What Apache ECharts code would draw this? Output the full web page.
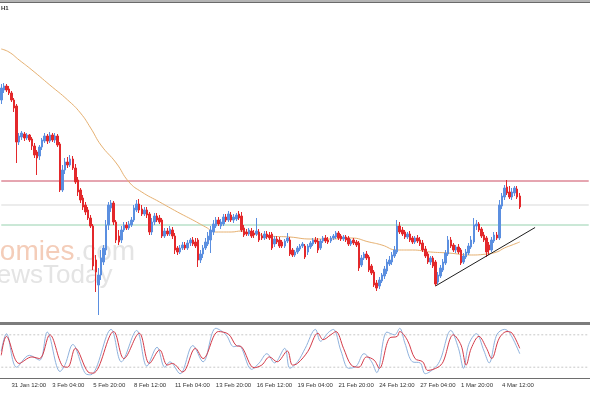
<!DOCTYPE html>
<html><head><meta charset="utf-8">
<script src="https://cdn.jsdelivr.net/npm/echarts@6/dist/echarts.min.js"></script>
<style>html,body{margin:0;padding:0;background:#fff}#c{width:590px;height:393px}</style>
</head><body><div id="c"></div>
<script>
// ---- data (price units are arbitrary) ----
const openP=[300,310,314,311,307,300,294,258,263,266,
262,265,261,254,248,244,253,259,264,259,
265,260,264,256,210,230,238,235,241,232,
220,210,202,195,190,182,174,140,115,125,
138,150,175,192,197,178,164,160,170,175,
172,175,180,190,196,191,186,190,186,168,
178,184,182,180,164,169,166,170,164,152,
148,152,155,152,157,160,158,160,140,146,
152,156,160,168,174,180,174,176,183,180,
185,180,181,186,184,172,168,166,169,167,
166,168,164,162,166,165,166,156,161,160,
158,154,159,160,150,145,148,151,154,154,
148,153,156,160,159,152,159,162,160,159,
162,163,167,164,161,163,162,156,160,158,
157,135,142,146,143,134,128,117,114,119,
124,129,136,138,144,148,174,170,168,163,
166,162,158,162,160,157,151,146,138,142,
138,118,124,130,137,146,160,155,150,153,
150,138,143,147,153,158,174,176,171,165,
162,155,150,159,165,162,194,203,213,208,
203,207,211,204];
const closeP=[312,314,310,307,300,292,258,264,267,262,
265,260,254,245,242,253,260,264,259,265,
260,264,255,210,230,238,235,241,232,218,
208,200,193,188,182,174,134,128,125,142,
152,175,195,197,178,160,158,170,175,172,
176,180,192,196,190,186,190,185,168,178,
184,180,178,164,169,166,171,164,150,148,
152,155,152,157,160,156,154,140,146,152,
158,164,170,176,180,176,178,183,180,186,
180,183,185,182,170,165,166,170,164,165,
169,160,162,166,163,162,152,161,158,154,
154,159,162,146,145,148,152,154,156,143,
154,157,160,158,150,159,162,159,158,162,
164,167,162,161,163,160,156,159,157,155,
132,142,146,142,130,127,115,112,120,125,
131,138,140,145,150,174,168,166,163,166,
160,158,162,159,156,150,144,138,142,134,
116,125,132,138,147,160,154,150,153,148,
137,144,148,154,160,175,176,170,164,160,
148,150,160,165,162,195,204,212,207,203,
208,212,203,193];
const lowP=[296,307,308,305,298,288,237,255,260,259,
260,258,250,242,225,240,250,257,256,257,
258,257,253,208,208,226,232,233,230,216,
204,197,190,185,180,172,130,108,85,120,
135,145,170,188,175,157,155,157,168,170,
170,173,178,188,187,184,184,182,165,165,
175,178,176,162,162,164,164,161,146,145,
146,150,150,150,154,154,152,133,137,142,
150,154,147,165,172,174,171,174,178,178,
178,177,179,180,168,163,164,164,162,162,
164,158,160,160,161,160,150,153,156,152,
152,152,157,144,143,143,146,149,152,141,
145,151,154,156,147,150,157,157,156,157,
160,161,160,159,159,158,154,154,155,153,
129,133,140,140,128,125,113,109,111,117,
121,126,134,135,142,146,166,164,161,161,
158,156,156,157,154,148,142,136,135,132,
114,116,122,128,135,144,152,148,147,146,
135,136,141,145,151,156,170,168,162,158,
143,145,148,157,160,160,191,200,205,201,
200,204,201,191];
const highP=[316,317,316,314,309,302,296,267,269,268,
267,266,263,257,250,255,262,267,266,268,
267,267,266,258,235,242,243,245,244,236,
223,212,205,198,193,185,176,145,132,150,
155,180,198,200,199,180,170,174,178,178,
179,183,195,200,201,195,193,193,188,182,
187,187,185,182,172,172,174,173,167,154,
155,158,158,160,162,163,162,162,150,155,
162,168,174,180,183,183,181,186,186,189,
188,186,187,189,188,175,171,172,172,170,
182,171,167,169,169,168,168,164,164,163,
160,161,167,163,152,150,154,156,158,156,
156,159,162,163,162,161,164,165,163,164,
166,169,169,166,165,165,164,161,162,160,
159,145,148,149,145,136,130,120,123,127,
134,141,144,148,154,180,178,173,170,168,
169,164,164,165,163,160,154,148,144,144,
140,128,135,141,150,164,163,157,155,156,
152,147,151,157,164,182,180,178,173,168,
164,158,163,168,168,200,207,215,220,214,
212,214,214,207];
// moving average, read at [barIndex, value]
const maPoints=[[0,351],[3,348],[7,340],[12,330],[19,315],[26,300],[31,287],[35,272],[39,255],[45,237],
[50,218],[55,208],[62,198],[69,188],[75,180],[80,173],[84,168],[90,168],[94,169],[97,167],
[105,164],[113,163],[121,161],[129,161],[137,162],[144,158],[149,155],[155,150],[161,150],[168,148],
[175,147],[184,145],[190,146],[194,148],[197,152],[200,155],[203,158]];
// stochastic oscillator, read at [barIndex, value]
const stochK=[[0,50],[2,82],[6,20],[11,42],[15,33],[18,85],[23,12],[25,25],[28,62],[33,8],[35,6],[43,90],[47,30],[53,88],[57,22],[61,57],[64,20],[66,30],[70,8],[75,60],[79,30],[84,92],[88,80],[91,58],[93,60],[98,16],[101,28],[104,45],[107,28],[111,55],[113,18],[116,30],[119,55],[123,90],[125,68],[128,84],[130,90],[133,50],[136,18],[139,22],[142,45],[145,30],[147,10],[151,85],[154,80],[156,92],[158,65],[161,30],[164,28],[166,8],[170,20],[172,35],[176,88],[179,55],[181,18],[183,62],[186,82],[189,50],[191,28],[194,80],[197,90],[199,84],[203,45]];
const stochD=[[0,42],[2,77],[7,27],[12,39],[15,36],[19,80],[24,22],[26,20],[29,55],[34,11],[36,9],[44,86],[48,36],[54,83],[58,27],[62,52],[65,24],[67,27],[71,11],[76,55],[79,36],[85,86],[89,81],[92,60],[94,58],[99,19],[102,24],[105,39],[108,30],[112,50],[114,24],[116,27],[120,49],[124,83],[126,71],[129,80],[131,86],[134,55],[137,24],[140,20],[143,39],[146,33],[148,18],[152,74],[155,77],[156,86],[159,70],[162,36],[165,30],[167,14],[171,20],[173,30],[177,80],[180,61],[182,24],[184,55],[187,77],[190,55],[192,36],[195,74],[198,86],[200,83],[203,55]];
const resistanceLevel=219, middleLevel=195, supportLevel=175;
const trendStart=[170,114], trendEnd=[209,172.5];
const stochLevels=[80,20];
const tickLabels=['31 Jan 12:00','3 Feb 04:00','5 Feb 20:00','8 Feb 12:00','11 Feb 04:00','13 Feb 20:00','16 Feb 12:00','19 Feb 04:00','21 Feb 20:00','24 Feb 12:00','27 Feb 04:00','1 Mar 20:00','4 Mar 12:00'];
const TOTAL_SLOTS=231;

// ---- build ----
const mon=['Jan','Feb','Mar','Apr','May','Jun','Jul','Aug','Sep','Oct','Nov','Dec'];
const pad=n=>String(n).padStart(2,'0');
const t0=Date.UTC(2021,0,30,20);
const categories=Array.from({length:TOTAL_SLOTS},(_,i)=>{const d=new Date(t0+i*4*3600e3);return d.getUTCDate()+' '+mon[d.getUTCMonth()]+' '+pad(d.getUTCHours())+':'+pad(d.getUTCMinutes());});
const candles=openP.map((o,i)=>[o,closeP[i],lowP[i],highP[i]]);
const showTick=(idx,val)=>tickLabels.indexOf(val)>=0;
const last=TOTAL_SLOTS-1;
function hLine(name,value,color,xi,yi,dash){
  return {name:name,type:'line',xAxisIndex:xi,yAxisIndex:yi,data:[[0,value],[last,value]],z:1,
    showSymbol:false,symbol:'none',silent:true,
    lineStyle:{color:color,width:1,type:dash||'solid'}};
}

const chart=echarts.init(document.getElementById('c'),null,{renderer:'canvas'});
chart.setOption({
  animation:false,
  backgroundColor:'#ffffff',
  grid:[{left:0,right:0,top:3,height:319},{left:0,right:0,top:324,height:54}],
  xAxis:[
    {type:'category',gridIndex:0,data:categories,show:false,boundaryGap:true},
    {type:'category',gridIndex:1,data:categories,boundaryGap:true,
     axisLine:{lineStyle:{color:'#6e6e6e',width:1}},
     axisTick:{interval:showTick,alignWithLabel:true,length:3,lineStyle:{color:'#555'}},
     axisLabel:{interval:showTick,align:'left',margin:4,fontSize:6,color:'#333',fontFamily:'Liberation Sans'},
     splitLine:{show:false}}
  ],
  yAxis:[
    {type:'value',gridIndex:0,min:78,max:397,show:false},
    {type:'value',gridIndex:1,min:0,max:100,show:false}
  ],
  graphic:[
    {type:'rect',shape:{x:0,y:0,width:590,height:2},style:{fill:'#b4b4b4'},z:10},
    {type:'rect',shape:{x:0,y:2,width:590,height:1},style:{fill:'#6a6a6a'},z:10},
    {type:'rect',shape:{x:0,y:322,width:590,height:3},style:{fill:'#7c7c7c'},z:10},
    {type:'text',left:1,top:5,style:{text:'H1',font:'bold 6px "Liberation Sans"',fill:'#333'},z:10},
    {type:'text',x:-64,y:238,z:-1,style:{text:'{a|Economies}{b|.com}',font:'28px "Liberation Sans"',rich:{a:{fill:'#f4cdb9',font:'28px "Liberation Sans"'},b:{fill:'#e4e4e4',font:'28px "Liberation Sans"'}}}},
    {type:'text',x:-22,y:263,z:-1,style:{text:'NewsToday',font:'26px "Liberation Sans"',fill:'#e4e4e4'}}
  ],
  series:[
    hLine('resistance',resistanceLevel,'#cc4d63',0,0),
    hLine('middle',middleLevel,'#d9d9d9',0,0),
    hLine('support',supportLevel,'#96d1ae',0,0),
    hLine('stoch80',stochLevels[0],'#c8c8c8',1,1,[2,2]),
    hLine('stoch20',stochLevels[1],'#c8c8c8',1,1,[2,2]),
    {type:'candlestick',xAxisIndex:0,yAxisIndex:0,data:candles,barWidth:2,z:3,
     itemStyle:{color:'#5b8fe0',color0:'#e3282b',borderColor:'#5b8fe0',borderColor0:'#e3282b',borderWidth:1},
     markLine:{silent:true,symbol:'none',label:{show:false},animation:false,
       lineStyle:{color:'#1e1e1e',width:1,type:'solid'},
       data:[[{coord:trendStart},{coord:trendEnd}]]}},
    {type:'line',xAxisIndex:0,yAxisIndex:0,data:maPoints,smooth:true,showSymbol:false,
     lineStyle:{color:'#e6b070',width:1},z:2},
    {type:'line',xAxisIndex:1,yAxisIndex:1,data:stochK,smooth:0.35,showSymbol:false,
     lineStyle:{color:'#8fb2dd',width:1}},
    {type:'line',xAxisIndex:1,yAxisIndex:1,data:stochD,smooth:0.35,showSymbol:false,
     lineStyle:{color:'#d43a48',width:1}}
  ]
});
</script></body></html>
